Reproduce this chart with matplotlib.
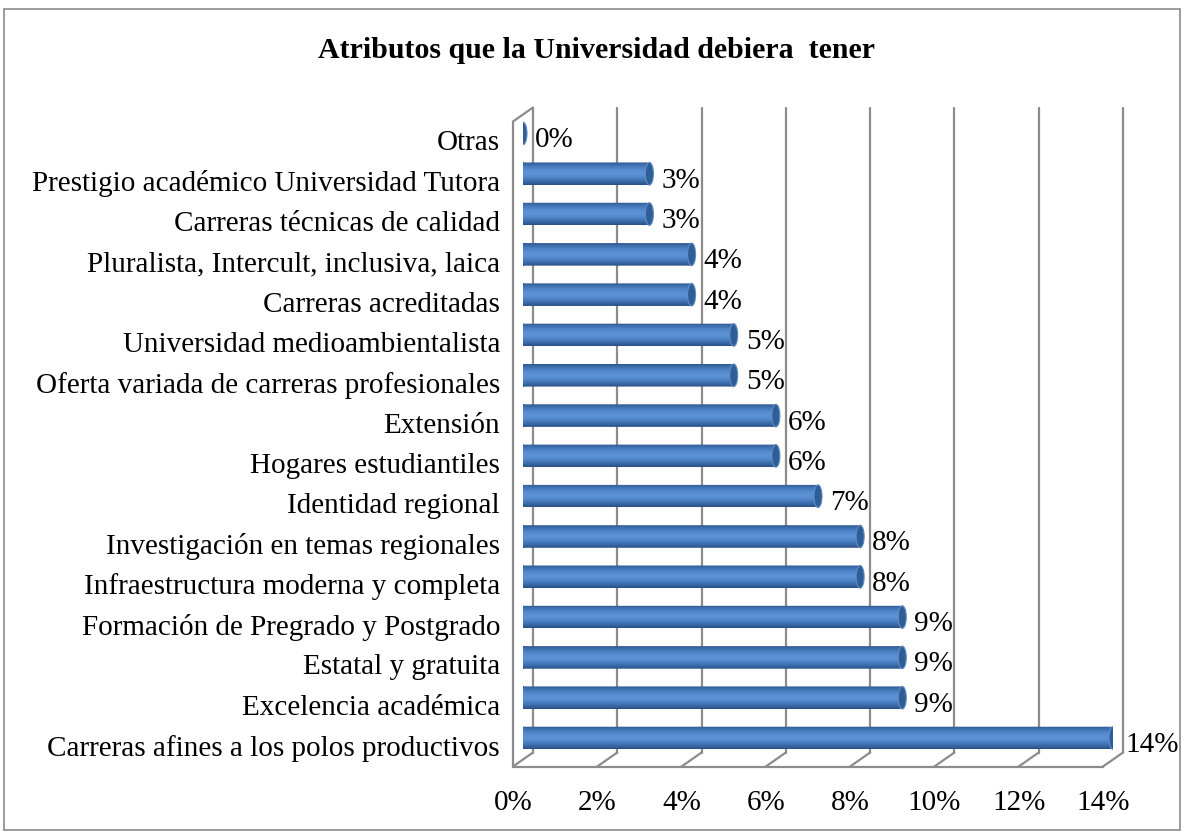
import matplotlib
matplotlib.use("Agg")
import matplotlib.pyplot as plt
import numpy as np
from matplotlib.patches import Ellipse, Rectangle
from matplotlib.path import Path
from matplotlib.colors import to_rgb
from matplotlib.transforms import ScaledTranslation

DPI = 100
TITLE = "Atributos que la Universidad debiera  tener"

# categories listed bottom -> top, as drawn
categories = [
    "Carreras afines a los polos productivos",
    "Excelencia académica",
    "Estatal y gratuita",
    "Formación de Pregrado y Postgrado",
    "Infraestructura moderna y completa",
    "Investigación en temas regionales",
    "Identidad regional",
    "Hogares estudiantiles",
    "Extensión",
    "Oferta variada de carreras profesionales",
    "Universidad medioambientalista",
    "Carreras acreditadas",
    "Pluralista, Intercult, inclusiva, laica",
    "Carreras técnicas de calidad",
    "Prestigio académico Universidad Tutora",
    "Otras",
]
values = [14, 9, 9, 9, 8, 8, 7, 6, 6, 5, 5, 4, 4, 3, 3, 0]
x_ticks = [0, 2, 4, 6, 8, 10, 12, 14]
x_tick_labels = ["0%", "2%", "4%", "6%", "8%", "10%", "12%", "14%"]

FONT = "Liberation Serif"
FS = 21
GRID = "#8c8c8c"
BAR_H = 0.56
# gradient stops for the cylinder look (bottom -> top)
GRAD = ["#2a5185", "#3d6dab", "#5086ca", "#5e93d7", "#568bcf", "#4477b8", "#2e5990"]

fig = plt.figure(figsize=(1183 / DPI, 833 / DPI), dpi=DPI)
# axes = middle plane of the 3d box, where the bars sit
ax = fig.add_axes([523 / 1183, 73.5 / 833, 590 / 1183, 645 / 833])
XMAX = 14
YLO, YHI = -0.533, 15.47
px_x = 590 / XMAX
px_y = 645 / (YHI - YLO)
ddx = 10 / px_x   # half depth of the box, in data units
ddy = 7 / px_y

# walls and floor
wall = dict(color=GRID, lw=1.6, clip_on=False, zorder=1, solid_capstyle="round")
for t in x_ticks:
    ax.plot([t + ddx, t + ddx], [YLO + ddy, YHI + ddy], **wall)
    ax.plot([t - ddx, t + ddx], [YLO - ddy, YLO + ddy], **wall)
ax.plot([-ddx, XMAX - ddx], [YLO - ddy, YLO - ddy], **wall)
ax.plot([-ddx, -ddx], [YLO - ddy, YHI - ddy], **wall)
ax.plot([-ddx, ddx], [YHI - ddy, YHI + ddy], **wall)

# bars drawn as cylinders
ypos = np.arange(len(categories))
bars = ax.barh(ypos, values, height=BAR_H, color="none", zorder=3)
cap_w = 8 / px_x
grad = np.array([to_rgb(c) for c in GRAD])
grad = np.array([np.interp(np.linspace(0, 1, 64), np.linspace(0, 1, len(GRAD)), grad[:, k])
                 for k in range(3)]).T[:, None, :]

for bar, v in zip(bars, values):
    x0, yb, w, h = bar.get_x(), bar.get_y(), bar.get_width(), bar.get_height()
    yc = yb + h / 2
    left = Ellipse((x0, yc), cap_w, h)
    clip = Path.make_compound_path(
        bar.get_path().transformed(bar.get_patch_transform()),
        left.get_path().transformed(left.get_patch_transform()),
    )
    img = ax.imshow(grad, extent=[x0 - cap_w / 2, x0 + w, yb, yb + h], origin="lower",
                    aspect="auto", interpolation="bilinear", zorder=3)
    img.set_clip_path(clip, ax.transData)
    ax.add_patch(Ellipse((x0 + w, yc), cap_w, h, facecolor="#2f5d96",
                         edgecolor="#5f8cc6", lw=0.8, zorder=4))
    ax.annotate(f"{v}%", (x0 + w, yc), xytext=(12, -7), textcoords="offset pixels",
                ha="left", va="center", fontsize=FS, family=FONT, zorder=5)

ax.set_xlim(0, XMAX)
ax.set_ylim(YLO, YHI)
ax.set_yticks(ypos, categories)
ax.set_xticks(x_ticks, x_tick_labels)
ax.tick_params(axis="y", length=0, pad=16.5, labelsize=FS)
ax.tick_params(axis="x", length=0, pad=22, labelsize=FS)
for s in ax.spines.values():
    s.set_visible(False)
ax.patch.set_visible(False)

for lab in ax.get_yticklabels():
    lab.set_family(FONT)
    lab.set_transform(lab.get_transform() + ScaledTranslation(0, -7 / DPI, fig.dpi_scale_trans))
for lab in ax.get_xticklabels():
    lab.set_family(FONT)
    lab.set_transform(lab.get_transform() + ScaledTranslation(-10 / DPI, 0, fig.dpi_scale_trans))

fig.text(596 / 1183, 1 - 50 / 833, TITLE, ha="center", va="center",
         fontsize=21.5, fontweight="bold", family=FONT)
fig.patches.append(Rectangle((4 / 1183, 3 / 833), 1176 / 1183, 821 / 833,
                             transform=fig.transFigure, fill=False,
                             edgecolor="#8a8a8a", lw=1.2))

fig.savefig("out.png", dpi=DPI)
